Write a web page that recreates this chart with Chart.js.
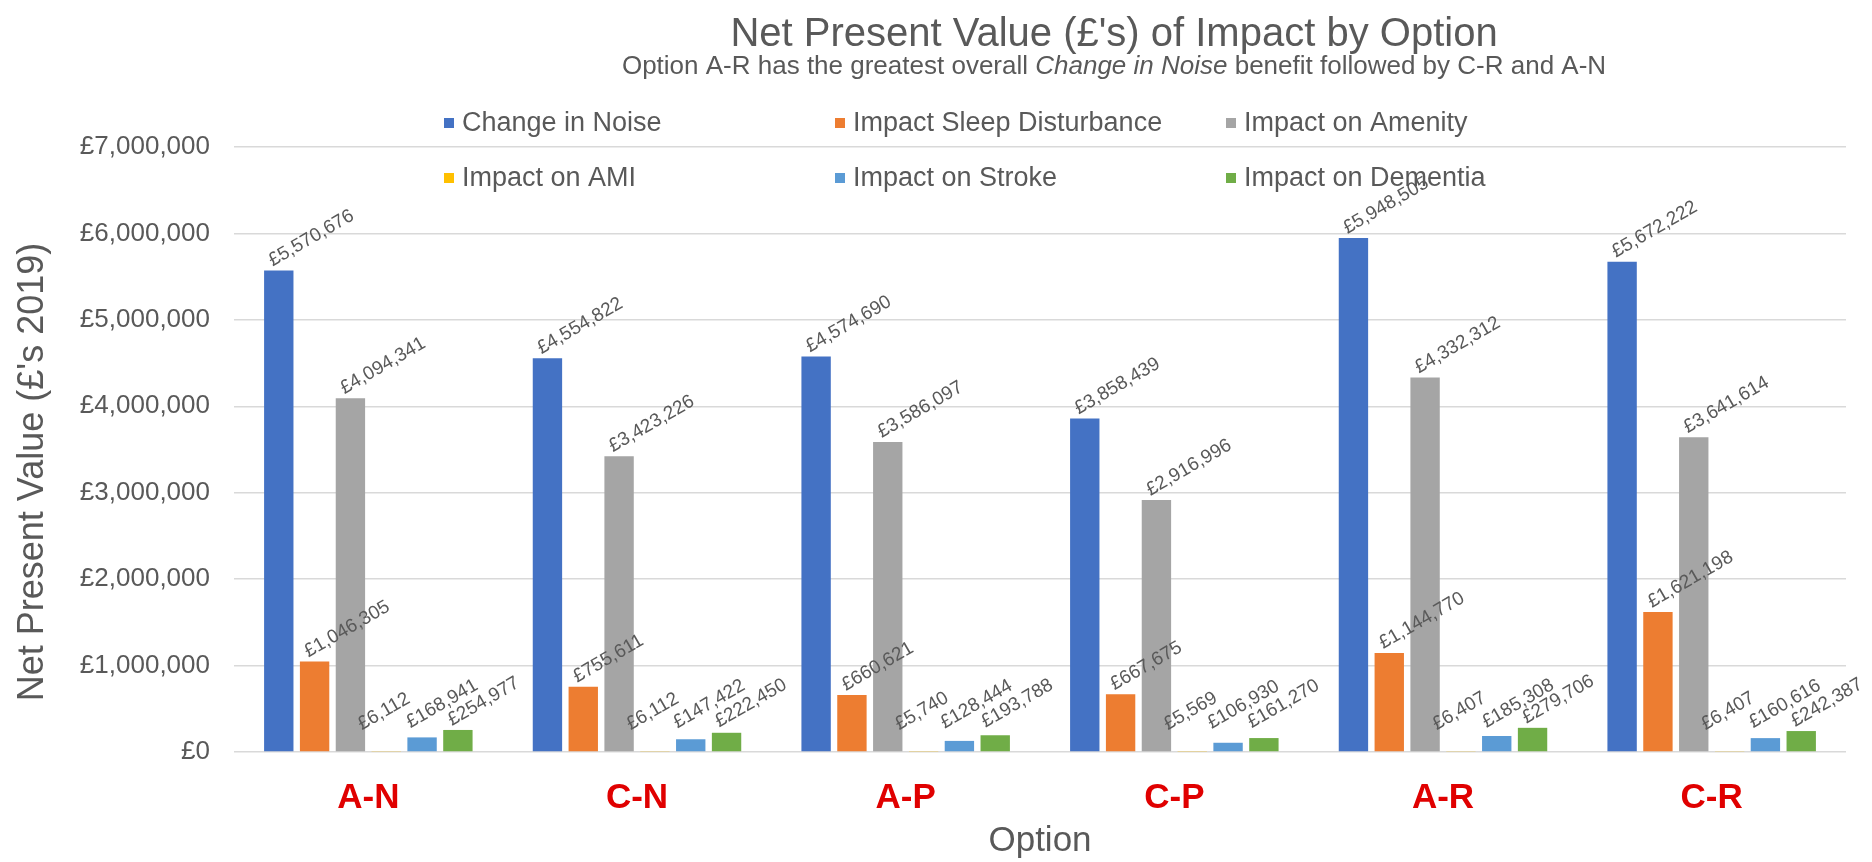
<!DOCTYPE html>
<html>
<head>
<meta charset="utf-8">
<script src="https://cdn.jsdelivr.net/npm/chart.js@4/dist/chart.umd.min.js"></script>
<style>
html, body { margin: 0; padding: 0; background: #fff; }
</style>
</head>
<body>
<canvas id="npvChart" width="1872" height="862"></canvas>
<script>
const options = ['A-N', 'C-N', 'A-P', 'C-P', 'A-R', 'C-R'];
const seriesNames = ['Change in Noise', 'Impact Sleep Disturbance', 'Impact on Amenity',
                     'Impact on AMI', 'Impact on Stroke', 'Impact on Dementia'];

const changeInNoise = [5570676, 4554822, 4574690, 3858439, 5948505, 5672222];
const sleepDisturbance = [1046305, 755611, 660621, 667675, 1144770, 1621198];
const amenity = [4094341, 3423226, 3586097, 2916996, 4332312, 3641614];
const ami = [6112, 6112, 5740, 5569, 6407, 6407];
const stroke = [168941, 147422, 128444, 106930, 185308, 160616];
const dementia = [254977, 222450, 193788, 161270, 279706, 242387];

const yTicks = [0, 1000000, 2000000, 3000000, 4000000, 5000000, 6000000, 7000000];

const colours = ['#4472C4', '#ED7D31', '#A5A5A5', '#FFC000', '#5B9BD5', '#70AD47'];

const titleText = "Net Present Value (£'s) of Impact by Option";
const subtitleParts = [
    { text: 'Option A-R has the greatest overall ', italic: false },
    { text: 'Change in Noise', italic: true },
    { text: ' benefit followed by C-R and A-N', italic: false }
];
const yTitleText = "Net Present Value (£'s 2019)";

const FONT = '"Liberation Sans", Arial, sans-serif';
const GREY = '#595959';

function pounds(v) {
    return '£' + String(v).replace(/\B(?=(\d{3})+(?!\d))/g, ',');
}

// titles drawn by hand: the subtitle mixes italic text and the
// y title sits a bit below the middle of the plot in the original
const titlePlugin = {
    id: 'titles',
    afterDraw(chart) {
        const c = chart.ctx;
        const cx = 1114;
        c.save();
        c.fillStyle = GREY;
        c.textBaseline = 'middle';
        c.textAlign = 'center';
        c.font = '40px ' + FONT;
        c.fillText(titleText, cx, 35);

        c.textAlign = 'left';
        let total = 0;
        subtitleParts.forEach(p => {
            c.font = (p.italic ? 'italic ' : '') + '26px ' + FONT;
            total += c.measureText(p.text).width;
        });
        let x = cx - total / 2;
        subtitleParts.forEach(p => {
            c.font = (p.italic ? 'italic ' : '') + '26px ' + FONT;
            c.fillText(p.text, x, 67);
            x += c.measureText(p.text).width;
        });

        c.save();
        c.translate(33, 472);
        c.rotate(-Math.PI / 2);
        c.textAlign = 'center';
        c.font = '36px ' + FONT;
        c.fillText(yTitleText, 0, 0);
        c.restore();
        c.restore();
    }
};

// legend in a 3 x 2 grid, overlapping the top of the plot like the original
const legendPlugin = {
    id: 'gridLegend',
    afterDraw(chart) {
        const c = chart.ctx;
        const colX = [444, 835, 1226];
        const rowY = [123, 178];
        c.save();
        c.font = '27px ' + FONT;
        c.textBaseline = 'middle';
        c.textAlign = 'left';
        chart.data.datasets.forEach((ds, i) => {
            const x = colX[i % 3];
            const y = rowY[Math.floor(i / 3)];
            c.fillStyle = ds.backgroundColor;
            c.fillRect(x, y - 5, 10, 10);
            c.fillStyle = GREY;
            c.fillText(ds.label, x + 18, y + 1);
        });
        c.restore();
    }
};

// rotated value labels above each bar, lifted off the axis for tiny bars
const valueLabels = {
    id: 'valueLabels',
    afterDatasetsDraw(chart) {
        const c = chart.ctx;
        c.save();
        c.font = '19px ' + FONT;
        c.fillStyle = GREY;
        c.textAlign = 'left';
        c.textBaseline = 'alphabetic';
        chart.data.datasets.forEach((ds, i) => {
            chart.getDatasetMeta(i).data.forEach((bar, j) => {
                const lift = Math.max(0, 20 - (bar.base - bar.y));
                c.save();
                c.translate(bar.x - 6 - lift * 0.9, bar.y - 4 - lift * 0.85);
                c.rotate(-Math.PI / 6);
                c.fillText(pounds(ds.data[j]), 0, 0);
                c.restore();
            });
        });
        c.restore();
    }
};

const seriesData = [changeInNoise, sleepDisturbance, amenity, ami, stroke, dementia];

const npvChart = new Chart(document.getElementById('npvChart'), {
    type: 'bar',
    data: {
        labels: options,
        datasets: seriesNames.map((name, i) => ({
            label: name,
            data: seriesData[i],
            backgroundColor: colours[i],
            categoryPercentage: 0.8,
            barPercentage: 0.82
        }))
    },
    options: {
        responsive: false,
        animation: false,
        devicePixelRatio: 1,
        layout: { padding: { top: 147, right: 26, bottom: 0, left: 0 } },
        plugins: {
            legend: { display: false },
            title: { display: false },
            tooltip: { enabled: false }
        },
        scales: {
            x: {
                grid: { display: false },
                border: { display: false },
                ticks: {
                    color: '#E00000',
                    font: { family: FONT, size: 35, weight: 'bold' },
                    padding: 17
                },
                title: {
                    display: true,
                    text: 'Option',
                    color: GREY,
                    font: { family: FONT, size: 35 },
                    padding: { top: 0, bottom: 0 }
                },
                afterFit(scale) { scale.height = 110; }
            },
            y: {
                min: 0,
                max: 7000000,
                afterBuildTicks(scale) {
                    scale.ticks = yTicks.map(v => ({ value: v }));
                },
                grid: { color: '#D9D9D9', lineWidth: 1.5, drawTicks: false },
                border: { display: false },
                ticks: {
                    color: GREY,
                    font: { family: FONT, size: 26 },
                    padding: 24,
                    callback: v => pounds(v)
                },
                afterFit(scale) { scale.width = 234; }
            }
        }
    },
    plugins: [titlePlugin, legendPlugin, valueLabels]
});
</script>
</body>
</html>
